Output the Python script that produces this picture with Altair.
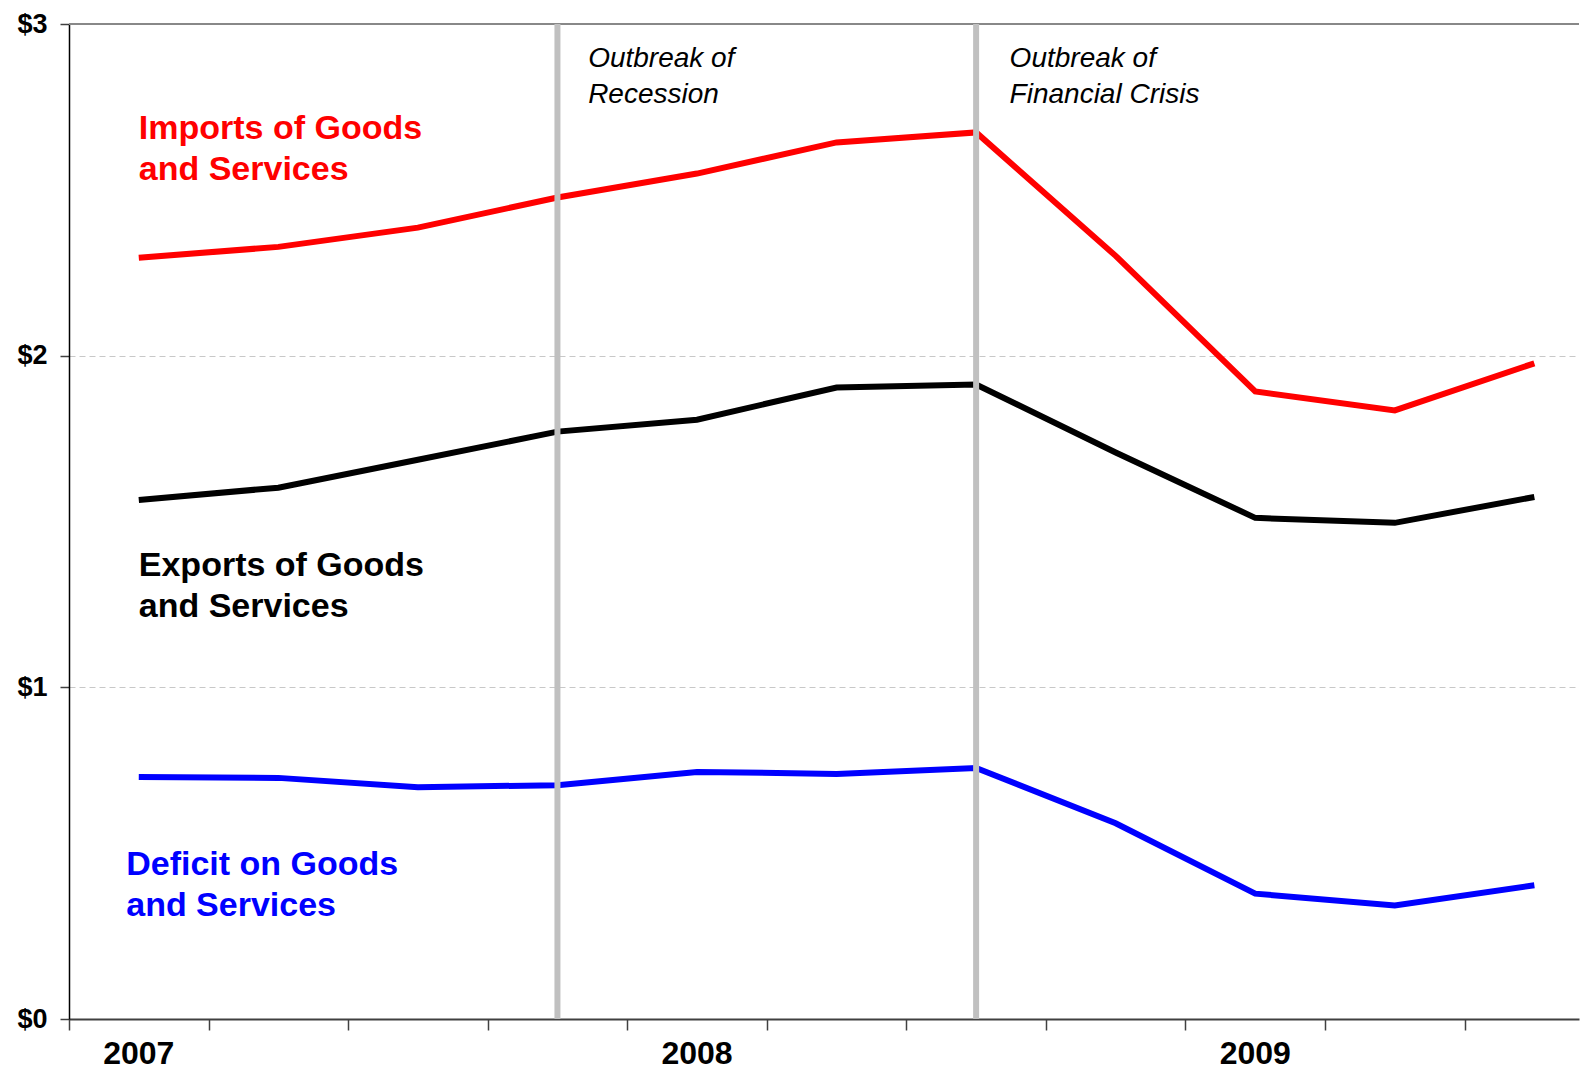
import altair as alt
import pandas as pd

# ---- data (trillions of dollars, quarterly, annualized) ----
quarters = ["2007 Q1", "2007 Q2", "2007 Q3", "2007 Q4",
            "2008 Q1", "2008 Q2", "2008 Q3", "2008 Q4",
            "2009 Q1", "2009 Q2", "2009 Q3"]
imports = [2.295, 2.328, 2.386, 2.477, 2.549, 2.643, 2.673, 2.301, 1.892, 1.835, 1.977]
exports = [1.565, 1.602, 1.686, 1.771, 1.807, 1.904, 1.913, 1.708, 1.511, 1.496, 1.574]
deficit = [0.730, 0.727, 0.699, 0.705, 0.745, 0.739, 0.757, 0.590, 0.378, 0.342, 0.403]

series_names = ["Imports", "Exports", "Deficit"]
series_colors = ["#ff0000", "#000000", "#0000ff"]

year_labels = ["2007", "2008", "2009"]
year_idx = [0, 4, 8]

event_idx = [3, 6]
event_text = [["Outbreak of", "Recession"], ["Outbreak of", "Financial Crisis"]]
event_tx = [3.22, 6.24]
event_ty = [2.893, 2.893]

label_text = [["Imports of Goods", "and Services"],
              ["Exports of Goods", "and Services"],
              ["Deficit on Goods", "and Services"]]
label_tx = [0.0, 0.0, -0.09]
label_ty = [2.683, 1.367, 0.465]

tick_positions = [-0.5, 0.5, 1.5, 2.5, 3.5, 4.5, 5.5, 6.5, 7.5, 8.5, 9.5]

# ---- tables ----
rows = []
for name, vals in zip(series_names, [imports, exports, deficit]):
    for i, (q, v) in enumerate(zip(quarters, vals)):
        rows.append({"idx": i, "quarter": q, "series": name, "value": v})
df = pd.DataFrame(rows)

events = pd.DataFrame({"idx": event_idx, "tx": event_tx, "ty": event_ty,
                       "text": event_text})
labels = pd.DataFrame({"series": series_names, "tx": label_tx, "ty": label_ty,
                       "text": label_text})
years = pd.DataFrame({"idx": year_idx, "year": year_labels})
top = pd.DataFrame({"y": [3]})

FONT = "Liberation Sans"
W, H = 1510, 995

xscale = alt.Scale(domain=[-0.5, 10.32], nice=False, zero=False)
yscale = alt.Scale(domain=[0, 3], nice=False)

xaxis = alt.Axis(values=tick_positions, labels=False, title=None, grid=False,
                 domainColor="#404040", domainWidth=2, tickColor="#404040",
                 tickWidth=1.5, tickSize=11)
yaxis = alt.Axis(values=[0, 1, 2, 3], labelExpr="'$' + datum.value", title=None,
                 labelFont=FONT, labelFontSize=27, labelFontWeight="bold",
                 labelColor="#000000", labelPadding=13, tickSize=9,
                 tickColor="#404040", tickWidth=1.5, domainColor="#000000",
                 domainWidth=1.5, grid=True, gridDash=[6, 4],
                 gridColor="#c8c8c8", gridWidth=1)

cscale = alt.Scale(domain=series_names, range=series_colors)

lines = alt.Chart(df).mark_line(strokeWidth=6).encode(
    x=alt.X("idx:Q", scale=xscale, axis=xaxis),
    y=alt.Y("value:Q", scale=yscale, axis=yaxis),
    color=alt.Color("series:N", scale=cscale, legend=None),
)

top_rule = alt.Chart(top).mark_rule(color="#888888", strokeWidth=2).encode(
    y=alt.Y("y:Q", scale=yscale, axis=yaxis)
)

event_rules = alt.Chart(events).mark_rule(color="#c0c0c0", strokeWidth=6).encode(
    x=alt.X("idx:Q", scale=xscale, axis=xaxis)
)

event_labels = alt.Chart(events).mark_text(
    align="left", baseline="middle", font=FONT, fontSize=28, fontStyle="italic",
    lineHeight=36, color="#000000"
).encode(
    x=alt.X("tx:Q", scale=xscale, axis=xaxis),
    y=alt.Y("ty:Q", scale=yscale, axis=yaxis),
    text="text",
)

series_labels = alt.Chart(labels).mark_text(
    align="left", baseline="middle", font=FONT, fontSize=34, fontWeight="bold",
    lineHeight=41
).encode(
    x=alt.X("tx:Q", scale=xscale, axis=xaxis),
    y=alt.Y("ty:Q", scale=yscale, axis=yaxis),
    text="text",
    color=alt.Color("series:N", scale=cscale, legend=None),
)

year_text = alt.Chart(years).mark_text(
    align="center", baseline="alphabetic", font=FONT, fontSize=32, fontWeight="bold",
    color="#000000"
).encode(
    x=alt.X("idx:Q", scale=xscale, axis=xaxis),
    y=alt.value(H + 45),
    text="year:N",
)

chart = alt.layer(
    lines, top_rule, event_rules, event_labels, series_labels, year_text
).properties(
    width=W, height=H,
    autosize=alt.AutoSizeParams(type="none"),
    padding={"left": 61, "top": 16, "right": 2, "bottom": 54},
    background="#ffffff",
).configure_view(stroke=None)

chart.save("out.html", embed_options={"renderer": "svg", "actions": False})
